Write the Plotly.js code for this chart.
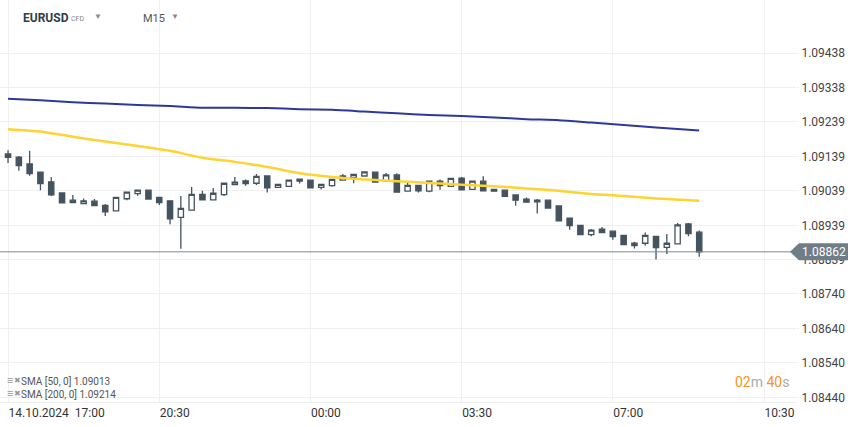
<!DOCTYPE html>
<html>
<head>
<meta charset="utf-8">
<script src="https://cdn.plot.ly/plotly-3.0.1.min.js"></script>
<style>
html,body{margin:0;padding:0;background:#fff;}
#chart{width:859px;height:427px;}
</style>
</head>
<body>
<div id="chart"></div>
<script>
// ---- data ----
var startTime = '2024-10-14 17:00';
var stepMinutes = 15;
var openP  = [1.09146,1.09137,1.09117,1.09093,1.09065,1.09033,1.09012,1.09002,1.09009,1.08997,1.08981,1.09016,1.09031,1.09041,1.09020,1.09010,1.08962,1.08983,1.09029,1.09013,1.09028,1.09057,1.09068,1.09061,1.09082,1.09049,1.09052,1.09067,1.09070,1.09049,1.09054,1.09070,1.09078,1.09082,1.09093,1.09068,1.09085,1.09038,1.09055,1.09038,1.09067,1.09052,1.09076,1.09043,1.09067,1.09043,1.09041,1.09027,1.09015,1.09007,1.09012,1.08995,1.08960,1.08939,1.08912,1.08928,1.08922,1.08910,1.08880,1.08887,1.08907,1.08875,1.08885,1.08943,1.08919];
var highP  = [1.09157,1.09140,1.09155,1.09093,1.09079,1.09033,1.09027,1.09017,1.09015,1.09001,1.09020,1.09035,1.09041,1.09041,1.09020,1.09010,1.09024,1.09050,1.09039,1.09047,1.09061,1.09079,1.09072,1.09088,1.09082,1.09058,1.09070,1.09073,1.09070,1.09058,1.09072,1.09088,1.09087,1.09094,1.09093,1.09091,1.09090,1.09064,1.09055,1.09067,1.09072,1.09075,1.09079,1.09067,1.09081,1.09045,1.09041,1.09027,1.09020,1.09015,1.09012,1.08995,1.08960,1.08939,1.08928,1.08934,1.08922,1.08910,1.08891,1.08918,1.08907,1.08914,1.08946,1.08946,1.08924];
var lowP   = [1.09120,1.09097,1.09083,1.09041,1.09024,1.09002,1.09005,1.09002,1.08996,1.08966,1.08981,1.09012,1.09025,1.09015,1.08998,1.08942,1.08871,1.08983,1.09013,1.09013,1.09024,1.09057,1.09054,1.09056,1.09034,1.09049,1.09052,1.09060,1.09048,1.09043,1.09051,1.09070,1.09061,1.09082,1.09064,1.09068,1.09035,1.09038,1.09034,1.09035,1.09042,1.09052,1.09042,1.09043,1.09038,1.09038,1.09023,1.08996,1.09006,1.08973,1.08987,1.08950,1.08926,1.08910,1.08907,1.08918,1.08897,1.08883,1.08872,1.08880,1.08840,1.08856,1.08885,1.08907,1.08848];
var closeP = [1.09136,1.09112,1.09089,1.09060,1.09027,1.09004,1.09005,1.09010,1.08996,1.08978,1.09020,1.09035,1.09041,1.09015,1.09005,1.08958,1.08988,1.09029,1.09013,1.09032,1.09061,1.09064,1.09060,1.09081,1.09048,1.09058,1.09070,1.09073,1.09048,1.09058,1.09072,1.09082,1.09087,1.09094,1.09064,1.09085,1.09035,1.09055,1.09039,1.09067,1.09054,1.09075,1.09042,1.09067,1.09039,1.09038,1.09023,1.09012,1.09006,1.09012,1.08989,1.08952,1.08938,1.08912,1.08925,1.08918,1.08906,1.08883,1.08887,1.08910,1.08874,1.08887,1.08940,1.08915,1.08862];

var smaIdx = [0,3,6,9,12,15,18,21,24,27,30,33,36,39,42,45,48,51,54,57,60,64];
var sma200 = [1.09306,1.09302,1.09296,1.09292,1.09288,1.09285,1.09280,1.09280,1.09279,1.09276,1.09274,1.09269,1.09264,1.09259,1.09256,1.09252,1.09247,1.09244,1.09237,1.09230,1.09223,1.09214];
var sma50  = [1.09218,1.09211,1.09196,1.09182,1.09169,1.09155,1.09135,1.09123,1.09108,1.09090,1.09079,1.09072,1.09067,1.09062,1.09057,1.09052,1.09046,1.09039,1.09030,1.09024,1.09017,1.09010];

var yTickVals = [1.08440,1.08540,1.08640,1.08740,1.08839,1.08939,1.09039,1.09139,1.09239,1.09338,1.09438];
var yTickText = ['1.08440','1.08540','1.08640','1.08740','1.08839','1.08939','1.09039','1.09139','1.09239','1.09338','1.09438'];
var xTickVals = ['2024-10-14 17:00','2024-10-14 20:30','2024-10-15 00:00','2024-10-15 03:30','2024-10-15 07:00','2024-10-15 10:30'];
var xTickText = ['14.10.2024  17:00','20:30','00:00','03:30','07:00','10:30'];
var lastPrice = 1.08862;
var sma50Label = 'SMA [50, 0] 1.09013';
var sma200Label = 'SMA [200, 0] 1.09214';

// ---- build ----
function t(i){
  var p = startTime.split(/[- :]/).map(Number);
  var d = new Date(Date.UTC(p[0],p[1]-1,p[2],p[3],p[4]) + i*stepMinutes*60000);
  return d.toISOString().slice(0,16).replace('T',' ');
}
var times = openP.map(function(_,i){return t(i);});
var smaTimes = smaIdx.map(t);

var W = 796, H = 402; // plot size in px
function px(x){return x/W;}
function py(y){return 1 - y/H;}

var candleColor = '#44545f';
var traces = [
  {type:'scatter', mode:'lines', x:smaTimes, y:sma200, line:{color:'#2d399a', width:2, shape:'spline', smoothing:0.6}, hoverinfo:'skip'},
  {type:'scatter', mode:'lines', x:smaTimes, y:sma50, line:{color:'#fdd431', width:2.5, shape:'spline', smoothing:0.6}, hoverinfo:'skip'},
  {type:'candlestick', x:times, open:openP, high:highP, low:lowP, close:closeP,
   increasing:{line:{color:candleColor, width:1.3}, fillcolor:'#ffffff'},
   decreasing:{line:{color:candleColor, width:1.3}, fillcolor:candleColor},
   whiskerwidth:0}
];

var font = 'Roboto, Arial, sans-serif';
var priceY = H - (lastPrice - 1.084264)/(1.095926-1.084264)*H;
var layout = {
  width:859, height:427,
  margin:{l:0, r:63, t:0, b:25},
  paper_bgcolor:'#ffffff', plot_bgcolor:'#ffffff',
  showlegend:false,
  font:{family:font, size:12, color:'#444'},
  xaxis:{type:'date', range:['2024-10-14 16:48:50','2024-10-15 11:14:25'],
    rangeslider:{visible:false},
    tickvals:xTickVals, ticktext:xTickText, ticklabelposition:'outside right',
    ticks:'', showgrid:true, gridcolor:'#f0f0f0', gridwidth:1,
    showline:true, linecolor:'#ececec', linewidth:1, zeroline:false,
    tickfont:{family:font, size:12, color:'#333'}, fixedrange:true},
  yaxis:{side:'right', range:[1.084264,1.095926], tickvals:yTickVals, ticktext:yTickText,
    ticks:'outside', ticklen:2, tickcolor:'#eeeeee', showgrid:true, gridcolor:'#f0f0f0', gridwidth:1, zeroline:false, showline:false,
    tickfont:{family:font, size:12, color:'#444'}, fixedrange:true},
  shapes:[
    {type:'line', xref:'paper', yref:'y', x0:0, x1:px(791), y0:lastPrice, y1:lastPrice, line:{color:'#7d8990', width:1}},
    {type:'path', xref:'paper', yref:'paper',
     path:'M '+px(790)+' '+py(priceY)+' L '+px(799)+' '+py(priceY-8.5)+' L '+px(848)+' '+py(priceY-8.5)+' L '+px(848)+' '+py(priceY+8.5)+' L '+px(799)+' '+py(priceY+8.5)+' Z',
     fillcolor:'#6f7d86', line:{width:0}}
  ],
  annotations:[
    {xref:'paper', yref:'paper', x:px(824), y:py(priceY), text:'1.08862', showarrow:false, xanchor:'center', yanchor:'middle', font:{family:font, size:12, color:'#ffffff'}},
    {xref:'paper', yref:'paper', x:px(21), y:py(18), text:'<b>EURUSD</b>', showarrow:false, xanchor:'left', yanchor:'middle', font:{family:font, size:12, color:'#2f3d48'}},
    {xref:'paper', yref:'paper', x:px(69), y:py(18.5), text:'CFD', showarrow:false, xanchor:'left', yanchor:'middle', font:{family:font, size:7, color:'#888'}},
    {xref:'paper', yref:'paper', x:px(92), y:py(17), text:'▼', showarrow:false, xanchor:'left', yanchor:'middle', font:{family:font, size:8, color:'#8a8a8a'}},
    {xref:'paper', yref:'paper', x:px(141), y:py(18.5), text:'M15', showarrow:false, xanchor:'left', yanchor:'middle', font:{family:font, size:11, color:'#555'}},
    {xref:'paper', yref:'paper', x:px(169), y:py(17), text:'▼', showarrow:false, xanchor:'left', yanchor:'middle', font:{family:font, size:8, color:'#8a8a8a'}},
    {xref:'paper', yref:'paper', x:px(5), y:py(380.5), text:'≡', showarrow:false, xanchor:'left', yanchor:'middle', font:{family:font, size:11, color:'#999'}},
    {xref:'paper', yref:'paper', x:px(12), y:py(380.5), text:'✖', showarrow:false, xanchor:'left', yanchor:'middle', font:{family:font, size:8, color:'#999'}},
    {xref:'paper', yref:'paper', x:px(19), y:py(381.5), text:sma50Label, showarrow:false, xanchor:'left', yanchor:'middle', font:{family:font, size:10, color:'#555'}},
    {xref:'paper', yref:'paper', x:px(5), y:py(393.5), text:'≡', showarrow:false, xanchor:'left', yanchor:'middle', font:{family:font, size:11, color:'#999'}},
    {xref:'paper', yref:'paper', x:px(12), y:py(393.5), text:'✖', showarrow:false, xanchor:'left', yanchor:'middle', font:{family:font, size:8, color:'#999'}},
    {xref:'paper', yref:'paper', x:px(19), y:py(394.5), text:sma200Label, showarrow:false, xanchor:'left', yanchor:'middle', font:{family:font, size:10, color:'#555'}},
    {xref:'paper', yref:'paper', x:px(791), y:py(382), text:'<span style="color:#f7941d">02</span>m <span style="color:#f7941d">40</span>s', showarrow:false, xanchor:'right', yanchor:'middle', font:{family:font, size:14, color:'#aaaaaa'}}
  ]
};

Plotly.newPlot('chart', traces, layout, {displayModeBar:false, staticPlot:true});
</script>
</body>
</html>
